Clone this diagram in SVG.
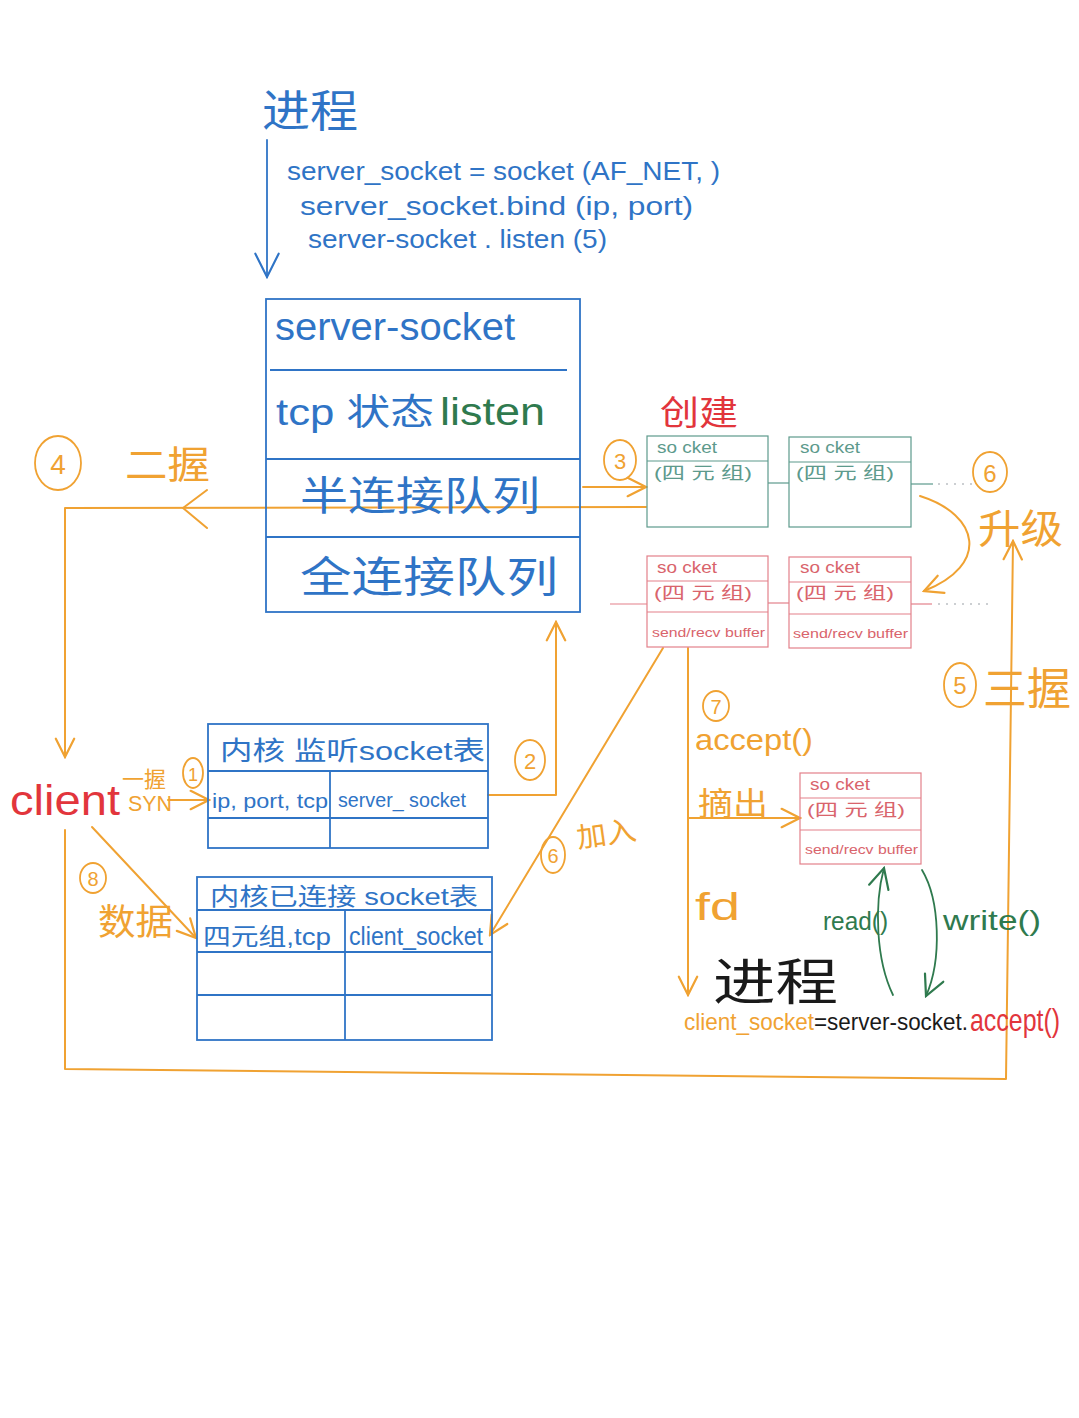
<svg xmlns="http://www.w3.org/2000/svg" width="1079" height="1418" viewBox="0 0 1079 1418">
  <style>
    .t { font-family: "Liberation Sans", "Noto Sans CJK SC", sans-serif; }
    .blue { fill: #2f74c6; }
    .orange { fill: #f0a232; }
    .red { fill: #e2353c; }
    .green { fill: #2f7a4e; }
    .black { fill: #1a1a1a; }
    .sk-g { fill: #5d9a8c; }
    .sk-r { fill: #d9646c; }
    .box-blue { fill: none; stroke: #2f74c6; stroke-width: 1.8; }
    .box-green { fill: none; stroke: #5d9a8c; stroke-width: 1.2; }
    .box-red { fill: none; stroke: #e3808a; stroke-width: 1.2; }
    .wire-o { fill: none; stroke: #f0a232; stroke-width: 2; stroke-linejoin: round; stroke-linecap: round; }
    .wire-b { fill: none; stroke: #2f74c6; stroke-width: 1.8; stroke-linecap: round; }
    .wire-g { fill: none; stroke: #2f7a4e; stroke-width: 1.8; stroke-linecap: round; }
    .link-g { fill: none; stroke: #5d9a8c; stroke-width: 1.2; }
    .link-r { fill: none; stroke: #e3808a; stroke-width: 1.2; }
    .dots { fill: none; stroke: #9aa0a6; stroke-width: 1.2; stroke-dasharray: 2 6; }
    .ring { fill: none; stroke: #f0a232; stroke-width: 1.8; }
  </style>
  <defs>
    <marker id="arr-o" viewBox="0 0 12 12" refX="11" refY="6" markerWidth="22" markerHeight="22" markerUnits="userSpaceOnUse" orient="auto">
      <path d="M1,1 L11,6 L1,11" fill="none" stroke="#f0a232" stroke-width="1.2" stroke-linecap="round"/>
    </marker>
    <marker id="arr-b" viewBox="0 0 12 12" refX="11" refY="6" markerWidth="28" markerHeight="28" markerUnits="userSpaceOnUse" orient="auto">
      <path d="M1,1 L11,6 L1,11" fill="none" stroke="#2f74c6" stroke-width="0.9" stroke-linecap="round"/>
    </marker>
    <marker id="arr-g" viewBox="0 0 12 12" refX="11" refY="6" markerWidth="24" markerHeight="24" markerUnits="userSpaceOnUse" orient="auto">
      <path d="M1,1 L11,6 L1,11" fill="none" stroke="#2f7a4e" stroke-width="1.1" stroke-linecap="round"/>
    </marker>
  </defs>

  <rect x="0" y="0" width="1079" height="1418" fill="#ffffff"/>

  <!-- connectors -->
  <g id="connectors">
    <!-- process flow -->
    <line class="wire-b" x1="267" y1="140" x2="267" y2="277" marker-end="url(#arr-b)"/>
    <!-- 3: half-open queue entry -->
    <line class="wire-o" x1="583" y1="487" x2="646" y2="487" marker-end="url(#arr-o)"/>
    <!-- 4: SYN+ACK back to client -->
    <polyline class="wire-o" points="646,507 65,508 65,757" marker-end="url(#arr-o)"/>
    <path class="wire-o" d="M207,490 L183,508 L207,528"/>
    <!-- 5: final ACK -->
    <polyline class="wire-o" points="65,830 65,1069 1006,1079 1013,541" marker-end="url(#arr-o)"/>
    <!-- 1: SYN -->
    <line class="wire-o" x1="168" y1="800" x2="209" y2="800" marker-end="url(#arr-o)"/>
    <!-- 2: lookup listening socket -->
    <polyline class="wire-o" points="488,795 556,795 556,622" marker-end="url(#arr-o)"/>
    <!-- 6: add to established table -->
    <line class="wire-o" x1="663" y1="648" x2="490" y2="935" marker-end="url(#arr-o)"/>
    <!-- 8: data -->
    <line class="wire-o" x1="92" y1="827" x2="196" y2="938" marker-end="url(#arr-o)"/>
    <!-- 7: accept -->
    <line class="wire-o" x1="688" y1="648" x2="688" y2="995" marker-end="url(#arr-o)"/>
    <line class="wire-o" x1="688" y1="818" x2="800" y2="818" marker-end="url(#arr-o)"/>
    <!-- 6: upgrade half -> full -->
    <path class="wire-o" d="M920,496 C980,515 990,565 924,591" marker-end="url(#arr-o)"/>
    <!-- read / write -->
    <path class="wire-g" d="M893,995 C876,960 874,905 884,868" marker-end="url(#arr-g)"/>
    <path class="wire-g" d="M922,870 C940,900 942,960 926,996" marker-end="url(#arr-g)"/>
    <!-- queue links -->
    <line class="link-g" x1="768" y1="483" x2="789" y2="483"/>
    <line class="link-g" x1="911" y1="484" x2="933" y2="484"/>
    <line class="dots" x1="938" y1="484" x2="978" y2="484"/>
    <line class="link-r" x1="610" y1="604" x2="647" y2="604"/>
    <line class="link-r" x1="768" y1="603" x2="789" y2="603"/>
    <line class="link-r" x1="911" y1="604" x2="932" y2="604"/>
    <line class="dots" x1="938" y1="604" x2="992" y2="604"/>
  </g>

  <!-- process header and calls -->
  <g id="process-top">
    <text class="t blue" x="262" y="127" font-size="44" textLength="96" lengthAdjust="spacingAndGlyphs">进程</text>
    <text class="t blue" x="287" y="180" font-size="26" textLength="433" lengthAdjust="spacingAndGlyphs">server_socket = socket (AF_NET, )</text>
    <text class="t blue" x="300" y="215" font-size="26" textLength="393" lengthAdjust="spacingAndGlyphs">server_socket.bind (ip, port)</text>
    <text class="t blue" x="308" y="248" font-size="26" textLength="299" lengthAdjust="spacingAndGlyphs">server-socket . listen (5)</text>
  </g>

  <!-- listening server socket -->
  <g id="server-socket">
    <rect class="box-blue" x="266" y="299" width="314" height="313"/>
    <line class="box-blue" x1="270" y1="370" x2="567" y2="370"/>
    <line class="box-blue" x1="266" y1="459" x2="580" y2="459"/>
    <line class="box-blue" x1="266" y1="537" x2="580" y2="537"/>
    <text class="t blue" x="275" y="340" font-size="38" textLength="240" lengthAdjust="spacingAndGlyphs">server-socket</text>
    <text class="t blue" x="276" y="425" font-size="36" textLength="158" lengthAdjust="spacingAndGlyphs">tcp 状态</text>
    <text class="t green" x="440" y="425" font-size="38" textLength="105" lengthAdjust="spacingAndGlyphs">listen</text>
    <text class="t blue" x="300" y="510" font-size="40" textLength="240" lengthAdjust="spacingAndGlyphs">半连接队列</text>
    <text class="t blue" x="300" y="592" font-size="42" textLength="258" lengthAdjust="spacingAndGlyphs">全连接队列</text>
  </g>

  <!-- half-open queue sockets -->
  <g id="half-socket-1">
    <rect class="box-green" x="647" y="436" width="121" height="91"/>
    <line class="box-green" x1="647" y1="461" x2="768" y2="461"/>
    <text class="t sk-g" x="657" y="453" font-size="17" textLength="60" lengthAdjust="spacingAndGlyphs">so cket</text>
    <text class="t sk-g" x="654" y="479" font-size="17" textLength="98" lengthAdjust="spacingAndGlyphs">(四 元 组)</text>
  </g>
  <g id="half-socket-2">
    <rect class="box-green" x="789" y="437" width="122" height="90"/>
    <line class="box-green" x1="789" y1="462" x2="911" y2="462"/>
    <text class="t sk-g" x="800" y="453" font-size="17" textLength="60" lengthAdjust="spacingAndGlyphs">so cket</text>
    <text class="t sk-g" x="796" y="479" font-size="17" textLength="98" lengthAdjust="spacingAndGlyphs">(四 元 组)</text>
  </g>

  <!-- full queue sockets -->
  <g id="full-socket-1">
    <rect class="box-red" x="647" y="556" width="121" height="91"/>
    <line class="box-red" x1="647" y1="581" x2="768" y2="581"/>
    <line class="box-red" x1="647" y1="612" x2="768" y2="612"/>
    <text class="t sk-r" x="657" y="573" font-size="17" textLength="60" lengthAdjust="spacingAndGlyphs">so cket</text>
    <text class="t sk-r" x="654" y="599" font-size="17" textLength="98" lengthAdjust="spacingAndGlyphs">(四 元 组)</text>
    <text class="t sk-r" x="652" y="637" font-size="13" textLength="113" lengthAdjust="spacingAndGlyphs">send/recv buffer</text>
  </g>
  <g id="full-socket-2">
    <rect class="box-red" x="789" y="557" width="122" height="91"/>
    <line class="box-red" x1="789" y1="582" x2="911" y2="582"/>
    <line class="box-red" x1="789" y1="614" x2="911" y2="614"/>
    <text class="t sk-r" x="800" y="573" font-size="17" textLength="60" lengthAdjust="spacingAndGlyphs">so cket</text>
    <text class="t sk-r" x="796" y="599" font-size="17" textLength="98" lengthAdjust="spacingAndGlyphs">(四 元 组)</text>
    <text class="t sk-r" x="793" y="638" font-size="13" textLength="115" lengthAdjust="spacingAndGlyphs">send/recv buffer</text>
  </g>

  <!-- accepted socket -->
  <g id="accepted-socket">
    <rect class="box-red" x="800" y="773" width="121" height="91"/>
    <line class="box-red" x1="800" y1="798" x2="921" y2="798"/>
    <line class="box-red" x1="800" y1="830" x2="921" y2="830"/>
    <text class="t sk-r" x="810" y="790" font-size="17" textLength="60" lengthAdjust="spacingAndGlyphs">so cket</text>
    <text class="t sk-r" x="807" y="816" font-size="17" textLength="98" lengthAdjust="spacingAndGlyphs">(四 元 组)</text>
    <text class="t sk-r" x="805" y="854" font-size="13" textLength="113" lengthAdjust="spacingAndGlyphs">send/recv buffer</text>
  </g>

  <!-- kernel listening table -->
  <g id="listen-table">
    <rect class="box-blue" x="208" y="724" width="280" height="124"/>
    <line class="box-blue" x1="208" y1="771" x2="488" y2="771"/>
    <line class="box-blue" x1="208" y1="818" x2="488" y2="818"/>
    <line class="box-blue" x1="330" y1="771" x2="330" y2="848"/>
    <text class="t blue" x="220" y="760" font-size="26" textLength="265" lengthAdjust="spacingAndGlyphs">内核 监听socket表</text>
    <text class="t blue" x="212" y="808" font-size="20" textLength="116" lengthAdjust="spacingAndGlyphs">ip, port, tcp</text>
    <text class="t blue" x="338" y="807" font-size="20" textLength="128" lengthAdjust="spacingAndGlyphs">server_ socket</text>
  </g>

  <!-- kernel established table -->
  <g id="established-table">
    <rect class="box-blue" x="197" y="877" width="295" height="163"/>
    <line class="box-blue" x1="197" y1="910" x2="492" y2="910"/>
    <line class="box-blue" x1="197" y1="952" x2="492" y2="952"/>
    <line class="box-blue" x1="197" y1="995" x2="492" y2="995"/>
    <line class="box-blue" x1="345" y1="910" x2="345" y2="1040"/>
    <text class="t blue" x="210" y="905" font-size="24" textLength="268" lengthAdjust="spacingAndGlyphs">内核已连接  socket表</text>
    <text class="t blue" x="203" y="945" font-size="24" textLength="128" lengthAdjust="spacingAndGlyphs">四元组,tcp</text>
    <text class="t blue" x="349" y="945" font-size="26" textLength="134" lengthAdjust="spacingAndGlyphs">client_socket</text>
  </g>

  <!-- client -->
  <g id="client">
    <text class="t red" x="10" y="815" font-size="42" textLength="110" lengthAdjust="spacingAndGlyphs">client</text>
  </g>

  <!-- step labels -->
  <g id="labels">
    <ellipse class="ring" cx="58" cy="463" rx="23" ry="27"/>
    <text class="t orange" x="58" y="474" font-size="28" text-anchor="middle">4</text>
    <text class="t orange" x="125" y="478" font-size="38" textLength="85" lengthAdjust="spacingAndGlyphs">二握</text>

    <ellipse class="ring" cx="620" cy="460" rx="16" ry="20"/>
    <text class="t orange" x="620" y="469" font-size="22" text-anchor="middle">3</text>
    <text class="t red" x="660" y="425" font-size="34" textLength="78" lengthAdjust="spacingAndGlyphs">创建</text>

    <ellipse class="ring" cx="990" cy="472" rx="17" ry="20"/>
    <text class="t orange" x="990" y="482" font-size="24" text-anchor="middle">6</text>
    <text class="t orange" x="978" y="543" font-size="40" textLength="85" lengthAdjust="spacingAndGlyphs">升级</text>

    <ellipse class="ring" cx="960" cy="685" rx="16" ry="22"/>
    <text class="t orange" x="960" y="694" font-size="24" text-anchor="middle">5</text>
    <text class="t orange" x="983" y="705" font-size="44" textLength="88" lengthAdjust="spacingAndGlyphs">三握</text>

    <text class="t orange" x="122" y="787" font-size="22" textLength="44" lengthAdjust="spacingAndGlyphs">一握</text>
    <text class="t orange" x="128" y="811" font-size="22" textLength="44" lengthAdjust="spacingAndGlyphs">SYN</text>
    <ellipse class="ring" cx="193" cy="773" rx="10" ry="15"/>
    <text class="t orange" x="193" y="781" font-size="18" text-anchor="middle">1</text>

    <ellipse class="ring" cx="530" cy="760" rx="15" ry="20"/>
    <text class="t orange" x="530" y="769" font-size="22" text-anchor="middle">2</text>

    <ellipse class="ring" cx="553" cy="855" rx="12" ry="18"/>
    <text class="t orange" x="553" y="863" font-size="20" text-anchor="middle">6</text>
    <text class="t orange" x="578" y="848" font-size="28" textLength="60" lengthAdjust="spacingAndGlyphs" transform="rotate(-8 578 848)">加入</text>

    <ellipse class="ring" cx="93" cy="878" rx="13" ry="15"/>
    <text class="t orange" x="93" y="886" font-size="20" text-anchor="middle">8</text>
    <text class="t orange" x="98" y="935" font-size="36" textLength="75" lengthAdjust="spacingAndGlyphs">数据</text>

    <ellipse class="ring" cx="716" cy="706" rx="13" ry="15"/>
    <text class="t orange" x="716" y="714" font-size="20" text-anchor="middle">7</text>
    <text class="t orange" x="695" y="750" font-size="30" textLength="118" lengthAdjust="spacingAndGlyphs">accept()</text>
    <text class="t orange" x="698" y="815" font-size="32" textLength="70" lengthAdjust="spacingAndGlyphs">摘出</text>
    <text class="t orange" x="695" y="920" font-size="38" textLength="45" lengthAdjust="spacingAndGlyphs">fd</text>

    <text class="t green" x="823" y="930" font-size="26" textLength="65" lengthAdjust="spacingAndGlyphs">read()</text>
    <text class="t green" x="943" y="930" font-size="28" textLength="98" lengthAdjust="spacingAndGlyphs">write()</text>
  </g>

  <!-- process side: accept call -->
  <g id="process-bottom">
    <text class="t black" x="713" y="1000" font-size="50" textLength="125" lengthAdjust="spacingAndGlyphs">进程</text>
    <text class="t orange" x="684" y="1030" font-size="24" textLength="130" lengthAdjust="spacingAndGlyphs">client_socket</text>
    <text class="t black" x="814" y="1030" font-size="24" textLength="154" lengthAdjust="spacingAndGlyphs">=server-socket.</text>
    <text class="t red" x="970" y="1031" font-size="32" textLength="90" lengthAdjust="spacingAndGlyphs">accept()</text>
  </g>
</svg>
